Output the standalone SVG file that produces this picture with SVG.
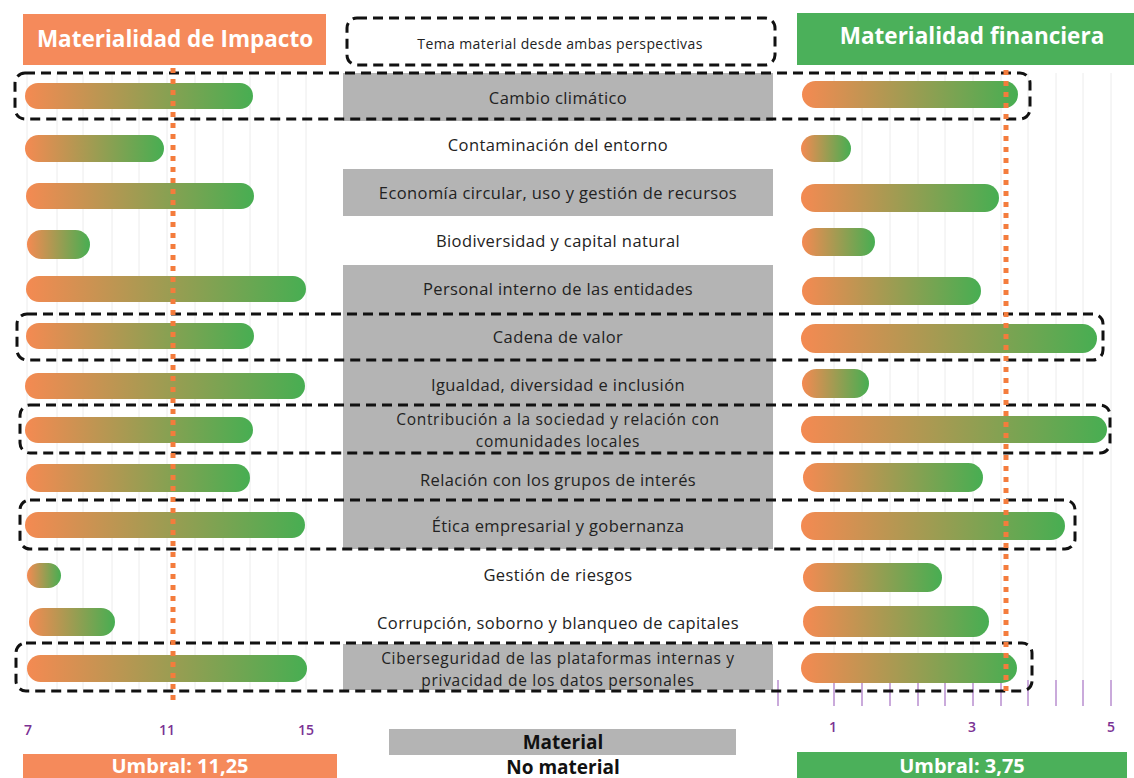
<svg xmlns="http://www.w3.org/2000/svg" width="1134" height="778" viewBox="0 0 1134 778">
<defs>
<linearGradient id="g" x1="0" y1="0" x2="1" y2="0">
<stop offset="0" stop-color="#F48A52"/>
<stop offset="1" stop-color="#47AE52"/>
</linearGradient>
<style>
.t{font-family:"Open Sans","Liberation Sans",sans-serif;font-size:16.5px;letter-spacing:0.4px;fill:#222;text-anchor:middle}
.t2{font-family:"Open Sans","Liberation Sans",sans-serif;font-size:15.5px;letter-spacing:0.7px;fill:#222;text-anchor:middle}
.hd{font-family:"Open Sans","Liberation Sans",sans-serif;font-size:22.5px;font-weight:bold;fill:#fff;text-anchor:middle}
.um{font-family:"Open Sans","Liberation Sans",sans-serif;font-size:20px;font-weight:bold;fill:#fff;text-anchor:middle}
.ax{font-family:"Open Sans","Liberation Sans",sans-serif;font-size:14px;font-weight:600;fill:#7B3294;text-anchor:middle}
.lg{font-family:"Open Sans","Liberation Sans",sans-serif;font-size:19px;font-weight:bold;fill:#111;text-anchor:middle}
.gray{fill:#B4B4B4}
.bar{fill:url(#g)}
.grid{stroke:#ECECEC;stroke-width:1}
.tick{stroke:#B98FCF;stroke-width:1.5}
.dash{fill:none;stroke:#111;stroke-width:3;stroke-dasharray:10 6}
.thr{stroke:#F47C3C;stroke-width:5;stroke-dasharray:5 6}
</style>
</defs>
<rect width="1134" height="778" fill="#fff"/>

<g id="grid">
<path class="grid" d="M27 73V690M57 73V690M83 73V690M112 73V690M139 73V690M167 73V690M195 73V690M223 73V690M250 73V690M278 73V690M306 73V690"/>
<path class="grid" d="M834 73V680M862 73V680M890 73V680M918 73V680M945 73V680M973 73V680M1001 73V680M1028 73V680M1056 73V680M1083 73V680M1111 73V680"/>
<path class="tick" d="M778 680V706M834 680V706M862 680V706M890 680V706M918 680V706M945 680V706M973 680V706M1001 680V706M1028 680V706M1056 680V706M1083 680V706M1111 680V706"/>
</g>

<g id="headers">
<g id="h-impacto"><rect x="23" y="14" width="303" height="51" fill="#F58A5B"/><text class="hd" x="175" y="47">Materialidad de Impacto</text></g>
<g id="h-financiera"><rect x="797" y="13" width="337" height="52" fill="#4BB05A"/><text class="hd" x="972" y="44">Materialidad financiera</text></g>
<g id="h-legend"><rect class="dash" x="347" y="18" width="428" height="47" rx="10"/><text class="t" x="560" y="49" style="font-size:14px;letter-spacing:0.4px">Tema material desde ambas perspectivas</text></g>
</g>

<g id="gray-boxes">
<rect class="gray" x="343" y="73" width="430" height="48"/>
<rect class="gray" x="343" y="169" width="430" height="47"/>
<rect class="gray" x="343" y="265" width="430" height="284"/>
<rect class="gray" x="343" y="644" width="430" height="46"/>
</g>

<g id="bars-left">
<rect class="bar" x="25" y="83" width="228" height="26" rx="13"/>
<rect class="bar" x="25" y="135" width="139" height="27" rx="13.5"/>
<rect class="bar" x="26" y="183" width="228" height="26" rx="13"/>
<rect class="bar" x="27" y="230" width="63" height="29" rx="14.5"/>
<rect class="bar" x="26" y="276" width="280" height="26" rx="13"/>
<rect class="bar" x="26" y="323" width="228" height="26" rx="13"/>
<rect class="bar" x="25" y="373" width="280" height="26" rx="13"/>
<rect class="bar" x="25" y="417" width="228" height="26" rx="13"/>
<rect class="bar" x="26" y="464" width="224" height="28" rx="14"/>
<rect class="bar" x="25" y="512" width="280" height="26" rx="13"/>
<rect class="bar" x="27" y="563" width="34" height="25" rx="12.5"/>
<rect class="bar" x="29" y="608" width="86" height="28" rx="14"/>
<rect class="bar" x="27" y="655" width="280" height="27" rx="13.5"/>
</g>

<g id="bars-right">
<rect class="bar" x="802" y="81" width="216" height="27" rx="13.5"/>
<rect class="bar" x="801" y="135" width="50" height="27" rx="13.5"/>
<rect class="bar" x="801" y="184" width="198" height="28" rx="14"/>
<rect class="bar" x="802" y="228" width="73" height="28" rx="14"/>
<rect class="bar" x="802" y="277" width="179" height="28" rx="14"/>
<rect class="bar" x="801" y="324" width="296" height="29" rx="14.5"/>
<rect class="bar" x="802" y="369" width="67" height="29" rx="14.5"/>
<rect class="bar" x="801" y="416" width="306" height="27" rx="13.5"/>
<rect class="bar" x="803" y="463" width="180" height="29" rx="14.5"/>
<rect class="bar" x="801" y="512" width="264" height="28" rx="14"/>
<rect class="bar" x="803" y="563" width="139" height="29" rx="14.5"/>
<rect class="bar" x="803" y="606" width="186" height="31" rx="15.5"/>
<rect class="bar" x="801" y="653" width="216" height="30" rx="15"/>
</g>

<g id="labels">
<text class="t" x="558" y="104">Cambio climático</text>
<text class="t" x="558" y="151">Contaminación del entorno</text>
<text class="t" x="558" y="199">Economía circular, uso y gestión de recursos</text>
<text class="t" x="558" y="247">Biodiversidad y capital natural</text>
<text class="t" x="558" y="295">Personal interno de las entidades</text>
<text class="t" x="558" y="343">Cadena de valor</text>
<text class="t" x="558" y="391">Igualdad, diversidad e inclusión</text>
<text class="t2" x="558" y="425">Contribución a la sociedad y relación con</text>
<text class="t2" x="558" y="447">comunidades locales</text>
<text class="t" x="558" y="486">Relación con los grupos de interés</text>
<text class="t" x="558" y="532">Ética empresarial y gobernanza</text>
<text class="t" x="558" y="581">Gestión de riesgos</text>
<text class="t" x="558" y="629">Corrupción, soborno y blanqueo de capitales</text>
<text class="t2" x="558" y="664">Ciberseguridad de las plataformas internas y</text>
<text class="t2" x="558" y="686">privacidad de los datos personales</text>
</g>

<g id="connectors">
<rect class="dash" x="15" y="73" width="1015" height="46" rx="10"/>
<rect class="dash" x="17" y="314" width="1086" height="46" rx="10"/>
<rect class="dash" x="20" y="405" width="1090" height="48" rx="10"/>
<rect class="dash" x="20" y="500" width="1055" height="49" rx="10"/>
<rect class="dash" x="16" y="643" width="1016" height="48" rx="10"/>
</g>

<g id="thresholds">
<line class="thr" x1="173" y1="68" x2="173" y2="702"/>
<line class="thr" x1="1006" y1="70" x2="1006" y2="694"/>
</g>

<g id="axes">
<text class="ax" x="28" y="735">7</text>
<text class="ax" x="167" y="735">11</text>
<text class="ax" x="306" y="735">15</text>
<text class="ax" x="833" y="732">1</text>
<text class="ax" x="972" y="732">3</text>
<text class="ax" x="1111" y="732">5</text>
</g>

<g id="umbral-left"><rect x="23" y="754" width="314" height="24" fill="#F58A5B"/><text class="um" x="180" y="773">Umbral: 11,25</text></g>
<g id="umbral-right"><rect x="797" y="752" width="330" height="26" fill="#4BB05A"/><text class="um" x="962" y="773">Umbral: 3,75</text></g>

<g id="legend">
<rect class="gray" x="389" y="729" width="347" height="26"/>
<text class="lg" x="563" y="749">Material</text>
<text class="lg" x="563" y="774">No material</text>
</g>
</svg>
